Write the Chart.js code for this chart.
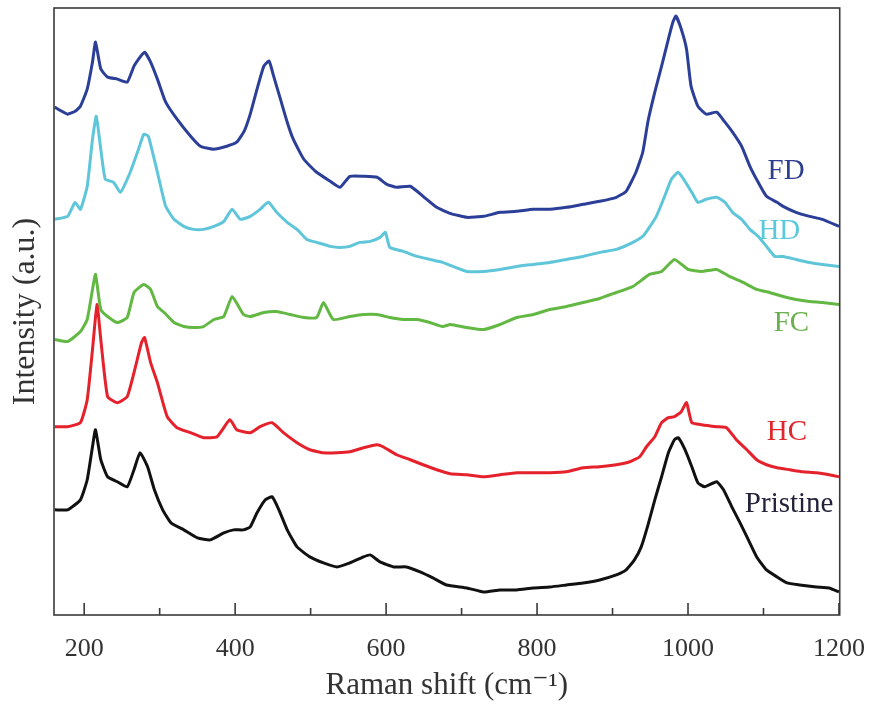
<!DOCTYPE html>
<html>
<head>
<meta charset="utf-8">
<script src="https://cdn.jsdelivr.net/npm/chart.js@4"></script>
<style>
  html, body { margin: 0; padding: 0; background: #fff; }
  #wrap { width: 876px; height: 704px; }
</style>
</head>
<body>
<div id="wrap"><canvas id="ramanChart"></canvas></div>
<script>
// Raman shift (cm-1) and intensity (a.u., stacked offsets) for each sample
const fdShift = [161,170,178,188,195,204,211,215,222,231,244,257,266,275,280,288,297,308,323,341,354,371,389,402,412,420,429,438,445,451,460,469,477,491,508,526,539,552,570,588,601,614,632,649,667,685,707,729,751,773,795,817,839,861,883,905,918,931,940,947,956,965,974,980,984,991,998,1004,1013,1024,1038,1049,1059,1071,1082,1093,1104,1118,1126,1143,1161,1178,1200];
const fdIntensity = [507,503,500,503,508,525,552,572,545,537,535,532,548,558,562,552,535,512,495,478,468,465,468,472,483,500,525,548,553,538,515,492,475,455,442,433,427,438,438,437,430,427,428,418,407,401,397,398,402,403,405,405,407,410,413,417,423,442,462,493,522,548,575,592,598,585,565,528,508,500,502,492,482,468,448,432,418,412,408,402,398,395,388];

const hdShift = [161,178,188,195,204,211,216,222,228,239,248,261,272,279,285,297,308,319,332,345,358,372,385,396,407,420,433,444,455,469,482,495,508,526,539,552,565,579,592,599,605,623,641,658,675,685,707,729,751,773,795,817,839,861,883,905,927,940,947,958,969,978,987,996,1005,1013,1024,1038,1049,1059,1071,1082,1093,1104,1115,1126,1143,1161,1178,1200];
const hdIntensity = [395,398,412,405,428,475,498,465,435,432,422,442,465,480,478,442,408,395,388,385,385,388,393,405,395,398,405,412,402,392,385,375,372,368,367,368,372,373,377,382,367,363,358,355,352,349,343,343,345,348,350,352,355,358,362,365,372,378,385,398,418,435,442,433,422,412,415,417,412,402,395,385,378,368,358,358,355,352,350,348];

const fcShift = [161,178,195,204,211,215,222,231,244,257,266,279,288,297,306,319,332,345,358,372,385,396,411,420,438,455,473,491,508,517,530,552,570,588,605,623,641,658,675,685,707,729,751,773,795,817,839,861,883,905,927,949,965,982,1000,1018,1038,1055,1073,1091,1108,1126,1143,1161,1178,1200];
const fcIntensity = [275,273,283,295,325,340,305,298,292,297,322,330,325,308,302,292,288,287,288,295,298,318,300,298,302,303,300,297,297,312,295,298,300,300,297,295,295,292,288,290,287,285,290,297,300,305,308,312,316,322,328,340,343,355,345,343,345,338,332,325,322,318,315,313,312,310];

const hcShift = [161,178,195,204,211,217,222,231,244,257,267,276,280,288,297,310,323,341,358,376,393,402,420,433,449,464,482,499,517,535,552,570,588,596,614,632,649,667,685,707,729,751,773,795,817,839,861,883,905,923,936,945,956,965,974,982,991,998,1005,1018,1038,1051,1064,1078,1091,1104,1118,1135,1152,1170,1187,1200];
const hcIntensity = [188,188,192,215,265,310,275,218,212,218,245,272,277,252,232,198,187,182,177,178,195,185,182,188,192,182,172,165,162,162,163,167,170,168,160,155,150,145,141,140,138,140,142,142,142,143,147,148,150,153,158,168,178,192,197,198,203,212,192,190,188,187,175,165,155,150,147,145,143,142,140,138];

const prShift = [161,178,195,204,211,215,222,231,244,257,266,274,284,293,304,315,332,350,367,385,398,411,420,429,440,449,458,469,482,499,517,535,552,570,579,592,610,627,645,662,680,707,729,751,773,795,817,839,861,883,905,918,929,938,947,956,965,974,982,987,996,1005,1013,1022,1038,1047,1058,1069,1080,1091,1104,1118,1131,1148,1170,1187,1200];
const prIntensity = [105,105,115,135,168,185,155,138,133,128,145,162,148,125,105,92,85,77,75,82,85,85,88,102,115,118,105,85,68,58,52,48,52,58,60,53,48,48,43,37,30,27,23,25,25,27,28,30,32,35,40,45,55,68,90,115,138,162,175,177,165,148,132,128,133,125,108,92,75,58,45,38,32,30,28,27,23];

const xTickLabels = [200, 400, 600, 800, 1000, 1200];

// sample names, colours and where the name sits (shift, intensity)
const names = ['FD', 'HD', 'FC', 'HC', 'Pristine'];
const lineColors = ['#2c3f98', '#5fc6da', '#62b843', '#e5212b', '#111111'];
const labelColors = ['#2e3f8f', '#5cc8dc', '#6ab04c', '#e0272d', '#22223a'];
const labelShift = [1130, 1121, 1137, 1131, 1134];
const labelIntensity = [443, 383, 291, 182, 110];

const series = [
    [fdShift, fdIntensity],
    [hdShift, hdIntensity],
    [fcShift, fcIntensity],
    [hcShift, hcIntensity],
    [prShift, prIntensity]
];

const datasets = series.map(([xs, ys], i) => ({
    label: names[i],
    data: xs.map((x, k) => ({ x: x, y: ys[k] })),
    borderColor: lineColors[i],
    borderWidth: 3,
    pointRadius: 0,
    tension: 0.15,
    fill: false
}));

const serif = "'Liberation Serif', 'DejaVu Serif', serif";

// frame, inward ticks and sample names
const framePlugin = {
    id: 'frame',
    afterDatasetsDraw(chart) {
        const { ctx, chartArea: a, scales } = chart;
        const xs = scales.x, ys = scales.y;
        ctx.save();
        ctx.strokeStyle = '#3a3a3a';
        ctx.lineWidth = 1.6;
        ctx.strokeRect(a.left, a.top, a.right - a.left, a.bottom - a.top);
        ctx.beginPath();
        for (let v = 200; v <= 1200; v += 100) {
            const px = xs.getPixelForValue(v);
            const len = v % 200 === 0 ? 12 : 7;
            ctx.moveTo(px, a.bottom);
            ctx.lineTo(px, a.bottom - len);
        }
        ctx.stroke();

        ctx.font = "29px " + serif;
        ctx.textAlign = 'center';
        ctx.textBaseline = 'middle';
        names.forEach((n, i) => {
            ctx.fillStyle = labelColors[i];
            ctx.fillText(n, xs.getPixelForValue(labelShift[i]), ys.getPixelForValue(labelIntensity[i]));
        });
        ctx.restore();
    }
};

const config = {
    type: 'line',
    data: { datasets: datasets },
    plugins: [framePlugin],
    options: {
        responsive: true,
        maintainAspectRatio: false,
        animation: false,
        layout: {
            padding: { left: 0, right: 35, top: 8, bottom: 0 }
        },
        plugins: {
            legend: { display: false },
            tooltip: { enabled: false }
        },
        scales: {
            x: {
                type: 'linear',
                min: 160,
                max: 1201,
                grid: { display: false },
                border: { display: false },
                afterFit: (s) => { s.height = 89; },
                ticks: {
                    stepSize: 100,
                    includeBounds: false,
                    autoSkip: false,
                    maxRotation: 0,
                    padding: 11,
                    color: '#333',
                    font: { family: serif, size: 26 },
                    callback: (v) => xTickLabels.includes(v) ? String(v) : ''
                },
                title: {
                    display: true,
                    text: 'Raman shift (cm\u207B\u00B9)',
                    color: '#333',
                    font: { family: serif, size: 31 },
                    padding: { top: 0, bottom: 0 }
                }
            },
            y: {
                min: 0,
                max: 606,
                grid: { display: false },
                border: { display: false },
                afterFit: (s) => { s.width = 54; },
                ticks: { display: false },
                title: {
                    display: true,
                    text: 'Intensity (a.u.)',
                    color: '#333',
                    font: { family: serif, size: 32 },
                    padding: { top: 6, bottom: 0 }
                }
            }
        }
    }
};

window.onload = () => {
    const ctx = document.getElementById('ramanChart').getContext('2d');
    new Chart(ctx, config);
};
</script>
</body>
</html>
